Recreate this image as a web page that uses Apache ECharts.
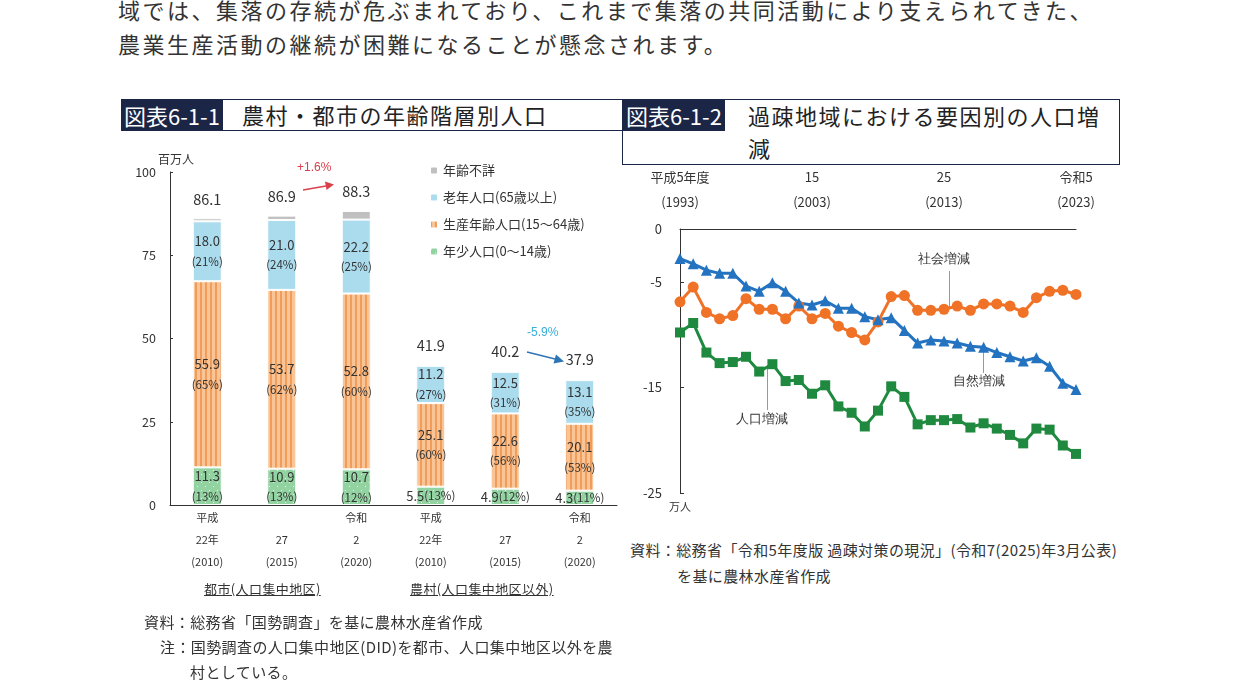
<!DOCTYPE html>
<html>
<head>
<meta charset="utf-8">
<script src="https://cdn.jsdelivr.net/npm/echarts@6/dist/echarts.min.js"></script>
<style>
  body { margin: 0; width: 1241px; height: 691px; position: relative; overflow: hidden; background: #fff;
         font-family: "Noto Sans CJK JP", "Noto Sans", sans-serif; color: #333; }
  .abs { position: absolute; white-space: nowrap; }
  .body-text { font-size: 22px; letter-spacing: 2.5px; color: #333; }
  .box1 { left: 121px; top: 99px; width: 501px; height: 32px; border-top: 1.5px solid #1b2545; border-bottom: 1.5px solid #1b2545; box-sizing: border-box; }
  .box2 { left: 622px; top: 99px; width: 498px; height: 66px; border: 1.5px solid #1b2545; box-sizing: border-box; }
  .tag { position: absolute; left: 0; top: 0; height: 31px; line-height: 31px; background: #1b2545; color: #fff; font-size: 22px; padding: 0 3px; }
  .ttl { position: absolute; font-size: 22px; letter-spacing: 1.5px; color: #222; line-height: 32px; }
  .note { font-size: 15px; letter-spacing: 0.4px; color: #333; }
  .grp { font-size: 13px; letter-spacing: 0.4px; text-decoration: underline; color: #333; }
</style>
</head>
<body>
<div class="abs body-text" style="left:118px; top:-7px;">域では、集落の存続が危ぶまれており、これまで集落の共同活動により支えられてきた、</div>
<div class="abs body-text" style="left:118px; top:27px;">農業生産活動の継続が困難になることが懸念されます。</div>

<div class="abs box1"><span class="tag">図表6-1-1</span><span class="ttl" style="left:121px; top:-2px;">農村・都市の年齢階層別人口</span></div>
<div class="abs box2"><span class="tag" style="left:0;">図表6-1-2</span><span class="ttl" style="left:125px; top:-1px; white-space:normal; width:370px;">過疎地域における要因別の人口増<br>減</span></div>

<div id="left" class="abs" style="left:120px; top:145px; width:500px; height:460px;"></div>
<div id="right" class="abs" style="left:622px; top:165px; width:500px; height:360px;"></div>

<div class="abs grp" style="left:204px; top:579px;">都市(人口集中地区)</div>
<div class="abs grp" style="left:410px; top:579px;">農村(人口集中地区以外)</div>

<div class="abs note" style="left:144px; top:611px;">資料：総務省「国勢調査」を基に農林水産省作成</div>
<div class="abs note" style="left:160px; top:636px;">注：国勢調査の人口集中地区(DID)を都市、人口集中地区以外を農</div>
<div class="abs note" style="left:190px; top:661px;">村としている。</div>

<div class="abs note" style="left:630px; top:539px;">資料：総務省「令和5年度版 過疎対策の現況」(令和7(2025)年3月公表)</div>
<div class="abs note" style="left:677px; top:565px;">を基に農林水産省作成</div>

<script>
// ---- 図表6-1-1 data ----
var barCats = ['平成\n22年\n(2010)', '\n27\n(2015)', '令和\n2\n(2020)', '平成\n22年\n(2010)', '\n27\n(2015)', '令和\n2\n(2020)'];
var young = [11.3, 10.9, 10.7, 5.5, 4.9, 4.3];
var working = [55.9, 53.7, 52.8, 25.1, 22.6, 20.1];
var elderly = [18.0, 21.0, 22.2, 11.2, 12.5, 13.1];
var unknownAge = [0.9, 1.3, 2.6, 0.1, 0.2, 0.4];
var totals = ['86.1', '86.9', '88.3', '41.9', '40.2', '37.9'];
var youngPct = ['13%', '13%', '12%', '13%', '12%', '11%'];
var workingPct = ['65%', '62%', '60%', '60%', '56%', '53%'];
var elderlyPct = ['21%', '24%', '25%', '27%', '31%', '35%'];

// ---- 図表6-1-2 data ----
var years = ['1993', '1994', '1995', '1996', '1997', '1998', '1999', '2000', '2001', '2002',
  '2003', '2004', '2005', '2006', '2007', '2008', '2009', '2010', '2011', '2012',
  '2013', '2014', '2015', '2016', '2017', '2018', '2019', '2020', '2021', '2022', '2023'];
var yearTicks = { '1993': '平成5年度\n(1993)', '2003': '15\n(2003)', '2013': '25\n(2013)', '2023': '令和5\n(2023)' };
var natural = [-2.8, -3.3, -3.9, -4.2, -4.2, -5.4, -5.9, -5.1, -5.9, -7.0, -7.2, -6.8, -7.5, -7.5, -8.3, -8.6,
  -8.4, -9.6, -10.8, -10.5, -10.6, -10.8, -11.1, -11.2, -11.7, -12.1, -12.5, -12.2, -13.0, -14.6, -15.2];
var social = [-6.9, -5.5, -7.9, -8.5, -8.2, -6.6, -7.6, -7.6, -8.5, -7.3, -8.5, -8.0, -9.2, -9.8, -10.5, -8.8,
  -6.4, -6.3, -7.7, -7.7, -7.6, -7.3, -7.7, -7.1, -7.1, -7.3, -7.9, -6.5, -5.9, -5.8, -6.2];
var totalChange = [-9.8, -8.9, -11.7, -12.7, -12.6, -12.1, -13.5, -12.8, -14.4, -14.3, -15.6, -14.8, -16.8, -17.4, -18.7, -17.2,
  -14.9, -15.9, -18.5, -18.1, -18.1, -18.0, -18.8, -18.4, -18.9, -19.5, -20.3, -18.9, -19.0, -20.5, -21.3];

// patterns
function stripes() {
  var c = document.createElement('canvas'); c.width = 5; c.height = 5;
  var g = c.getContext('2d');
  g.fillStyle = '#f9c596'; g.fillRect(0, 0, 5, 5);
  g.fillStyle = '#f19c5a'; g.fillRect(0, 0, 2, 5);
  return c;
}
function dots() {
  var c = document.createElement('canvas'); c.width = 8; c.height = 8;
  var g = c.getContext('2d');
  g.fillStyle = '#93d3a2'; g.fillRect(0, 0, 8, 8);
  g.fillStyle = '#e8f7ec'; g.fillRect(1, 1, 1, 1); g.fillRect(5, 5, 1, 1);
  return c;
}

var segLabel = function (vals, pcts, oneLineIdx) {
  return {
    show: true, position: 'inside', color: '#333',
    formatter: function (p) {
      var v = vals[p.dataIndex].toFixed(1);
      if (oneLineIdx && oneLineIdx.indexOf(p.dataIndex) >= 0) return '{v|' + v + '}{p|(' + pcts[p.dataIndex] + ')}';
      return '{v|' + v + '}\n{p|(' + pcts[p.dataIndex] + ')}';
    },
    rich: { v: { fontSize: 13, color: '#333', lineHeight: 20 }, p: { fontSize: 11.5, color: '#333', lineHeight: 20 } }
  };
};

var left = echarts.init(document.getElementById('left'));
left.setOption({
  animation: false,
  textStyle: { fontFamily: 'Noto Sans CJK JP' },
  grid: { left: 50, top: 27, width: 447, height: 333 },
  legend: {
    orient: 'vertical', left: 304, top: 14, itemWidth: 8, itemHeight: 8, itemGap: 14,
    textStyle: { fontSize: 13, color: '#333' },
    data: ['年齢不詳', '老年人口(65歳以上)', '生産年齢人口(15～64歳)', '年少人口(0～14歳)']
  },
  xAxis: {
    type: 'category', data: barCats,
    axisLine: { lineStyle: { color: '#333', width: 1 } },
    axisTick: { show: false },
    axisLabel: { margin: 2, fontSize: 11, lineHeight: 22, color: '#333', interval: 0 }
  },
  yAxis: {
    type: 'value', min: 0, max: 100, interval: 25,
    name: '百万人', nameLocation: 'end', nameGap: 4,
    nameTextStyle: { fontSize: 12, color: '#333', align: 'left', padding: [0, 0, 0, -12] },
    axisLine: { show: true, lineStyle: { color: '#333' } },
    axisTick: { show: true, length: 3, inside: true, lineStyle: { color: '#333' } },
    axisLabel: { fontSize: 12.5, color: '#333', margin: 14 },
    splitLine: { show: false }
  },
  series: [
    { name: '年少人口(0～14歳)', type: 'bar', stack: 'p', barWidth: 29, data: young,
      itemStyle: { color: { image: dots(), repeat: 'repeat' }, borderColor: '#fff', borderWidth: 1 },
      label: segLabel(young, youngPct, [3, 4, 5]) },
    { name: '生産年齢人口(15～64歳)', type: 'bar', stack: 'p', data: working,
      itemStyle: { color: { image: stripes(), repeat: 'repeat' }, borderColor: '#fff', borderWidth: 1 },
      label: segLabel(working, workingPct) },
    { name: '老年人口(65歳以上)', type: 'bar', stack: 'p', data: elderly,
      itemStyle: { color: '#aadcee', borderColor: '#fff', borderWidth: 1 },
      label: segLabel(elderly, elderlyPct) },
    { name: '年齢不詳', type: 'bar', stack: 'p', data: unknownAge,
      itemStyle: { color: '#c0c0c0', borderColor: '#fff', borderWidth: 1 },
      label: { show: true, position: 'top', distance: 12, fontSize: 14.5, color: '#333',
        formatter: function (p) { return totals[p.dataIndex]; } } }
  ],
  graphic: [
    { type: 'text', left: 177, top: 17, style: { text: '+1.6%', fontSize: 12, fill: '#d9404b' } },
    { type: 'line', shape: { x1: 183, y1: 45, x2: 206, y2: 41 }, style: { stroke: '#d9404b', lineWidth: 1.5 } },
    { type: 'polygon', shape: { points: [[214, 39.5], [205, 36.5], [206.5, 45]] }, style: { fill: '#d9404b' } },
    { type: 'text', left: 407, top: 182, style: { text: '-5.9%', fontSize: 12, fill: '#3aaedc' } },
    { type: 'line', shape: { x1: 407, y1: 207, x2: 435, y2: 214 }, style: { stroke: '#2e75b6', lineWidth: 1.5 } },
    { type: 'polygon', shape: { points: [[444, 216.5], [436, 209.5], [433.5, 218.5]] }, style: { fill: '#2e75b6' } }
  ]
});

var right = echarts.init(document.getElementById('right'));
right.setOption({
  animation: false,
  textStyle: { fontFamily: 'Noto Sans CJK JP' },
  grid: { left: 58, top: 64, width: 396, height: 264 },
  xAxis: {
    type: 'category', data: years, boundaryGap: false, position: 'top',
    axisLine: { lineStyle: { color: '#333', width: 1 } },
    axisTick: { show: false },
    axisLabel: { interval: 9, margin: 14, fontSize: 13, lineHeight: 25, color: '#333',
      formatter: function (v) { return yearTicks[v] || ''; } }
  },
  yAxis: {
    type: 'value', min: -25, max: 0, interval: 5,
    name: '万人', nameLocation: 'start', nameGap: 8,
    nameTextStyle: { fontSize: 11, color: '#333', verticalAlign: 'top' },
    axisLine: { show: true, lineStyle: { color: '#333' } },
    axisTick: { show: true, inside: true, length: 4, customValues: [-5, -15, -25], lineStyle: { color: '#333' } },
    axisLabel: { fontSize: 13, color: '#333', margin: 18, customValues: [0, -5, -15, -25] },
    splitLine: { show: false }
  },
  series: [
    { name: '社会増減', type: 'line', data: social, symbol: 'circle', symbolSize: 11, showAllSymbol: true,
      lineStyle: { color: '#f07226', width: 3 }, itemStyle: { color: '#f07226' } },
    { name: '自然増減', type: 'line', data: natural, symbol: 'triangle', symbolSize: 11, showAllSymbol: true,
      lineStyle: { color: '#2473c0', width: 3 }, itemStyle: { color: '#2473c0' } },
    { name: '人口増減', type: 'line', data: totalChange, symbol: 'rect', symbolSize: 10, showAllSymbol: true,
      lineStyle: { color: '#1f8a3f', width: 3 }, itemStyle: { color: '#1f8a3f' } }
  ],
  graphic: [
    { type: 'text', left: 296, top: 88, style: { text: '社会増減', fontSize: 13, fill: '#333' } },
    { type: 'line', shape: { x1: 327.5, y1: 106, x2: 327.5, y2: 142 }, style: { stroke: '#999', lineWidth: 1 } },
    { type: 'text', left: 331, top: 210, style: { text: '自然増減', fontSize: 13, fill: '#333' } },
    { type: 'line', shape: { x1: 361.5, y1: 182, x2: 361.5, y2: 208 }, style: { stroke: '#999', lineWidth: 1 } },
    { type: 'text', left: 114, top: 248, style: { text: '人口増減', fontSize: 13, fill: '#333' } },
    { type: 'line', shape: { x1: 145.5, y1: 202, x2: 145.5, y2: 245 }, style: { stroke: '#999', lineWidth: 1 } }
  ]
});
</script>
</body>
</html>
